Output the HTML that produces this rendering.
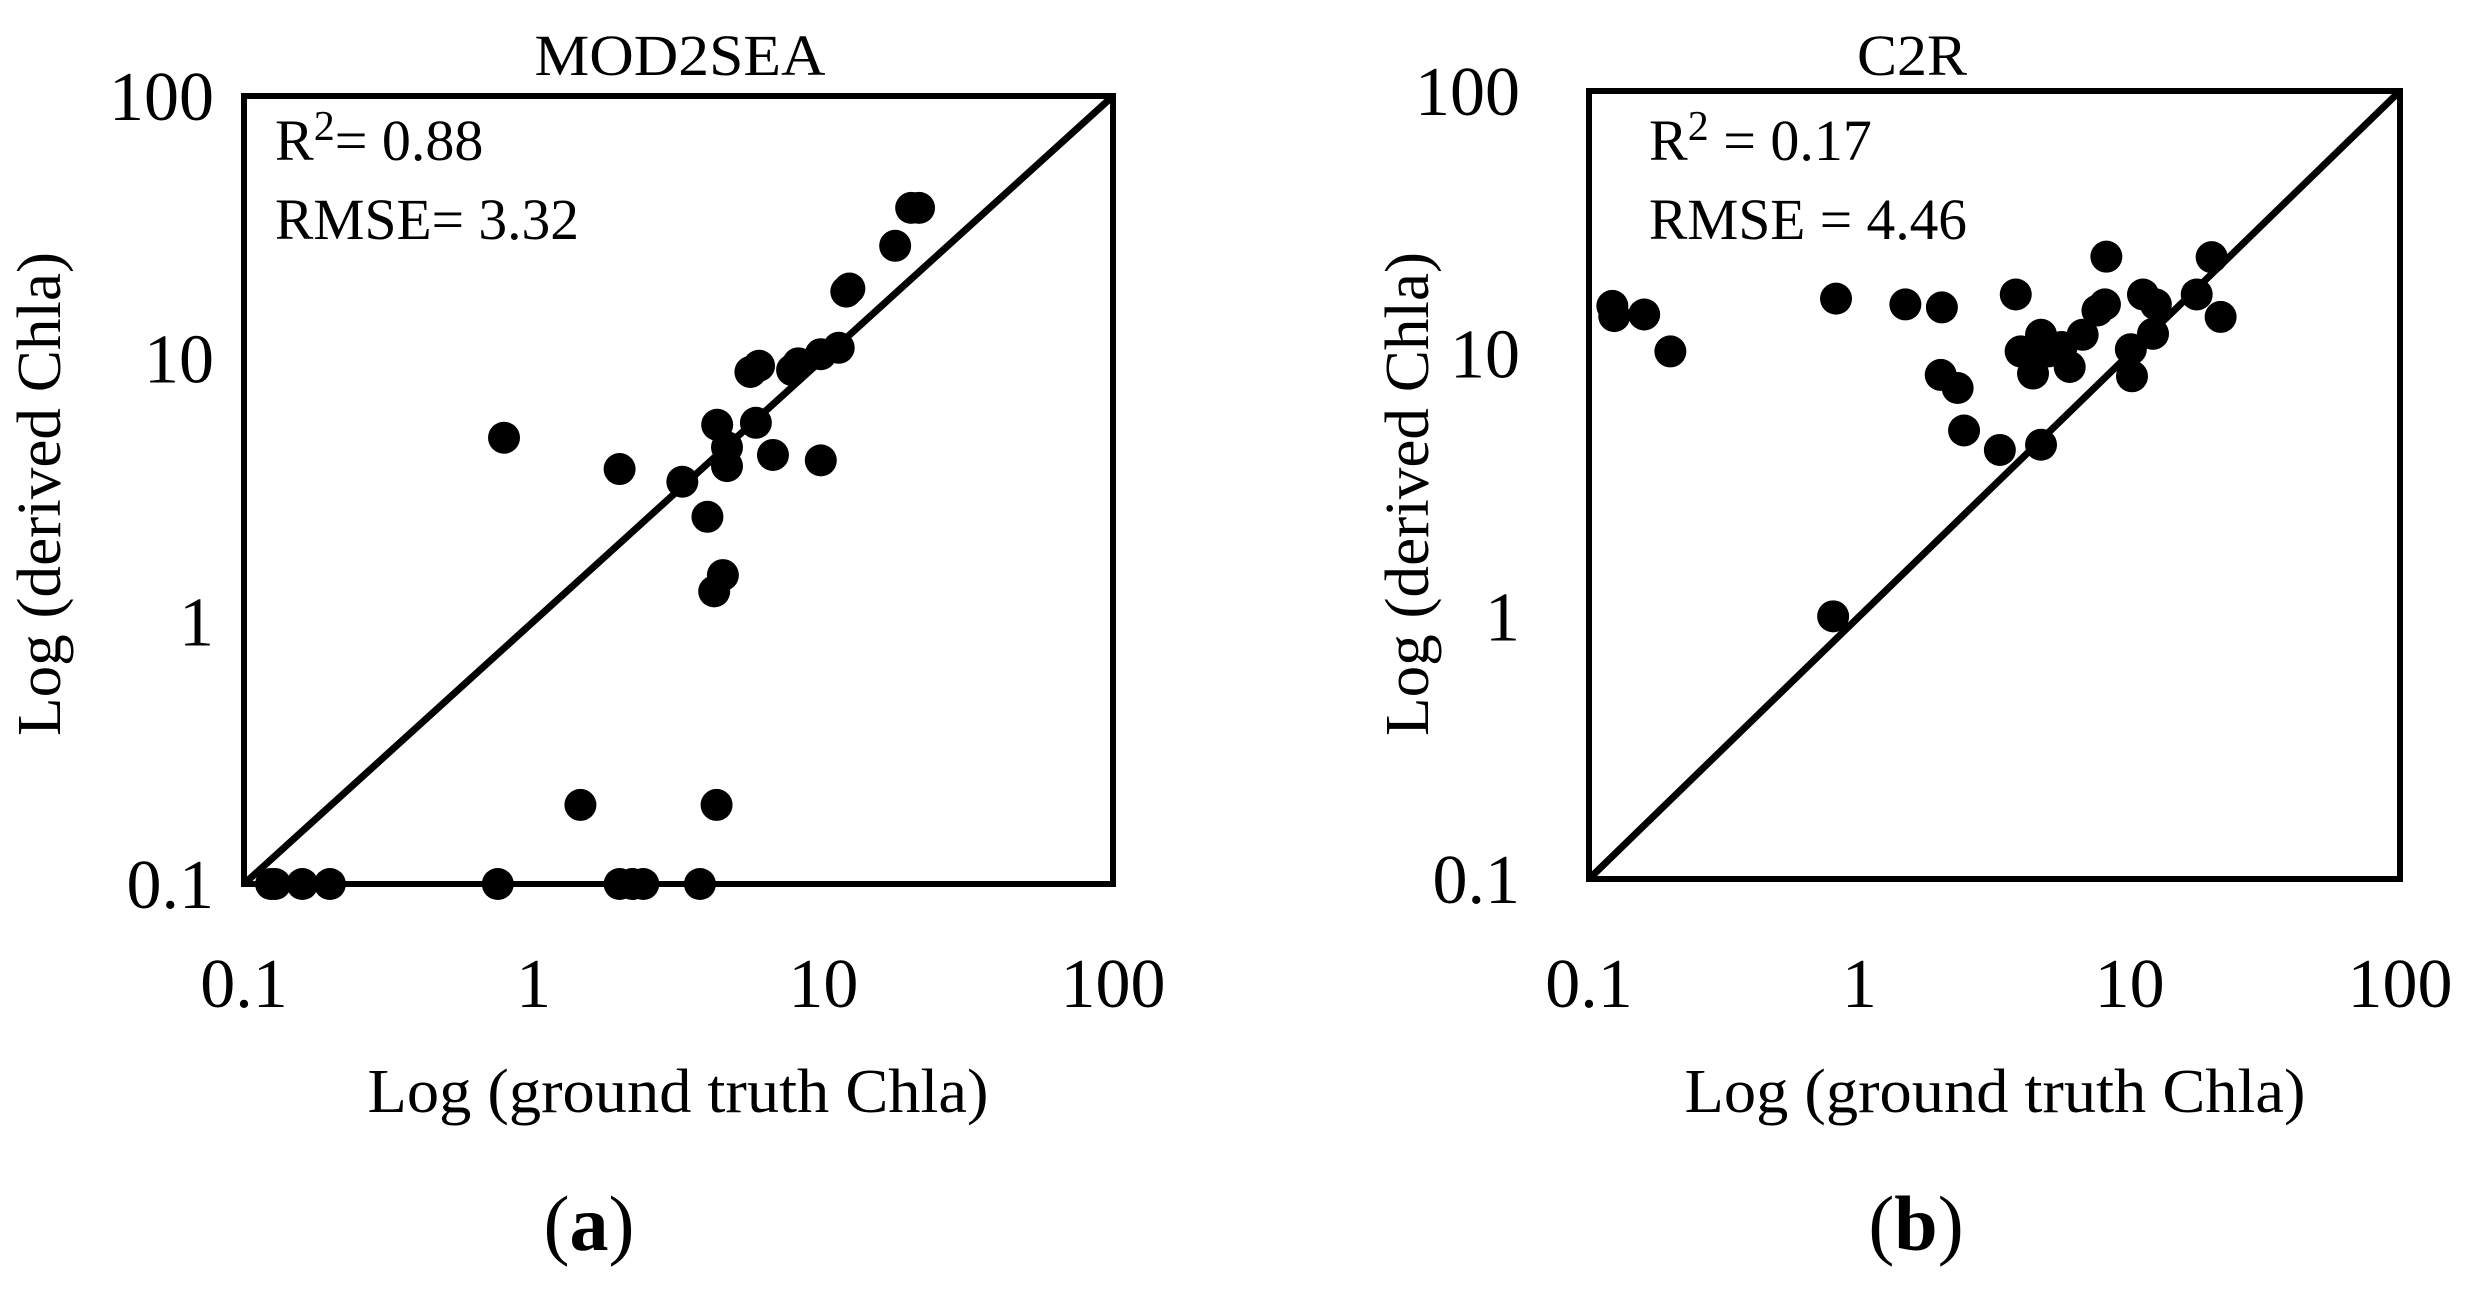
<!DOCTYPE html>
<html><head><meta charset="utf-8"><style>
html,body{margin:0;padding:0;background:#fff;}
svg{display:block;font-family:"Liberation Serif",serif;}
</style></head><body>
<svg id="fig" width="2467" height="1290" viewBox="0 0 2467 1290">
<g id="pa"></g>
<g id="pb"></g>
</svg>
<script>
const ticks = [0.1, 1, 10, 100];
const tickLabels = ["0.1", "1", "10", "100"];
const aX = [0.124,0.128,0.159,0.198,0.752,1.98,2.19,2.39,3.75,1.45,4.28,0.79,1.98,3.26,3.98,4.2,4.5,4.3,4.65,4.65,5.85,6.7,5.6,6.0,7.8,8.2,9.8,9.8,11.3,12.0,12.3,17.7,20.1,21.4];
const aY = [0.1,0.1,0.1,0.1,0.1,0.1,0.1,0.1,0.1,0.2,0.2,5.0,3.8,3.4,2.5,1.3,1.5,5.6,4.6,3.9,5.7,4.3,8.9,9.4,9.05,9.6,4.1,10.4,11.0,18.0,18.5,26.9,37.5,37.5];
const bX = [0.122,0.124,0.16,0.20,0.82,0.80,1.48,2.02,2.0,2.31,2.44,3.31,3.79,3.95,4.39,4.6,4.7,4.7,5.0,5.6,6.0,6.7,7.6,8.1,8.2,10.1,10.2,11.2,12.2,12.5,17.7,20.1,21.7];
const bY = [15.2,13.9,14.1,10.2,16.2,1.0,15.4,15.0,8.3,7.4,5.1,4.3,16.8,10.2,8.4,10.8,11.8,4.5,10.2,10.6,8.9,11.8,14.6,15.4,23.4,10.4,8.2,16.8,11.9,15.4,16.8,23.3,13.8];

const NS = "http://www.w3.org/2000/svg";
function mk(parent, tag, attrs, text) {
  const e = document.createElementNS(NS, tag);
  for (const k in attrs) e.setAttribute(k, attrs[k]);
  if (text !== undefined) e.textContent = text;
  parent.appendChild(e);
  return e;
}
function panel(g, cfg, xs, ys) {
  const sx = v => cfg.x0 + (Math.log10(v) + 1) / 3 * (cfg.x1 - cfg.x0);
  const sy = v => cfg.y1 - (Math.log10(v) + 1) / 3 * (cfg.y1 - cfg.y0);
  const l = mk(g, "line", {x1: sx(0.1), y1: sy(0.1), x2: sx(100), y2: sy(100), stroke: "#000", "stroke-width": 7});
  
  
  for (let i = 0; i < xs.length; i++) {
    const c = mk(g, "ellipse", {cx: sx(xs[i]), cy: sy(ys[i]), rx: 16, ry: 16, fill: "#000"});
    
    
  }
  const r = mk(g, "rect", {x: cfg.x0, y: cfg.y0, width: cfg.x1 - cfg.x0, height: cfg.y1 - cfg.y0, fill: "none", stroke: "#000", "stroke-width": 6});
  
  
  for (let i = 0; i < ticks.length; i++) {
    const tx = mk(g, "text", {x: sx(ticks[i]), y: 1007, "font-size": 70, "text-anchor": "middle"}, tickLabels[i]);
    
    
    const ty = mk(g, "text", {x: cfg.yLabRight, y: sy(ticks[i]) + 24, "font-size": 70, "text-anchor": "end"}, tickLabels[i]);
    
    
  }
  const t = mk(g, "text", {x: cfg.titleX, y: 75, "font-size": 58, "text-anchor": "middle", textLength: cfg.titleW, lengthAdjust: "spacingAndGlyphs"}, cfg.title);
  
  
  const r2 = mk(g, "text", {x: cfg.statX, y: 160, "font-size": 58}, "");
  
  
  mk(r2, "tspan", {}, "R");
  mk(r2, "tspan", {"font-size": 42, dy: -20}, "2");
  mk(r2, "tspan", {dy: 20}, cfg.r2);
  const rm = mk(g, "text", {x: cfg.statX, y: 239, "font-size": 58, textLength: cfg.rmseW, lengthAdjust: "spacingAndGlyphs"}, cfg.rmse);
  
  
  const xt = mk(g, "text", {x: cfg.xTitleX, y: 1112, "font-size": 62, "text-anchor": "middle", textLength: 621, lengthAdjust: "spacingAndGlyphs"}, "Log (ground truth Chla)");
  
  
  const yt = mk(g, "text", {x: 0, y: 0, "font-size": 62, "text-anchor": "middle", textLength: 484, lengthAdjust: "spacingAndGlyphs", transform: `translate(${cfg.yTitleX},494) rotate(-90)`}, cfg.yTitle);
  
  
  const pl = mk(g, "text", {x: cfg.labX, y: 1250, "font-size": 78, "text-anchor": "middle"}, "");
  
  
  mk(pl, "tspan", {}, "(");
  mk(pl, "tspan", {"font-weight": "bold"}, cfg.lab);
  mk(pl, "tspan", {}, ")");
}
panel(document.getElementById("pa"), {x0:244,x1:1113,y0:96,y1:884,yLabRight:214,title:"MOD2SEA",titleX:680,titleW:291,statX:275,r2:"= 0.88",rmse:"RMSE= 3.32",rmseW:304,xTitleX:678,yTitleX:60,yTitle:"Log (derived Chla)",labX:589,lab:"a"}, aX, aY);
panel(document.getElementById("pb"), {x0:1589,x1:2400,y0:91,y1:879,yLabRight:1520,title:"C2R",titleX:1912,titleW:110,statX:1649,r2:" = 0.17",rmse:"RMSE = 4.46",rmseW:318,xTitleX:1995,yTitleX:1428,yTitle:"Log  (derived Chla)",labX:1916,lab:"b"}, bX, bY);
</script>
</body></html>
